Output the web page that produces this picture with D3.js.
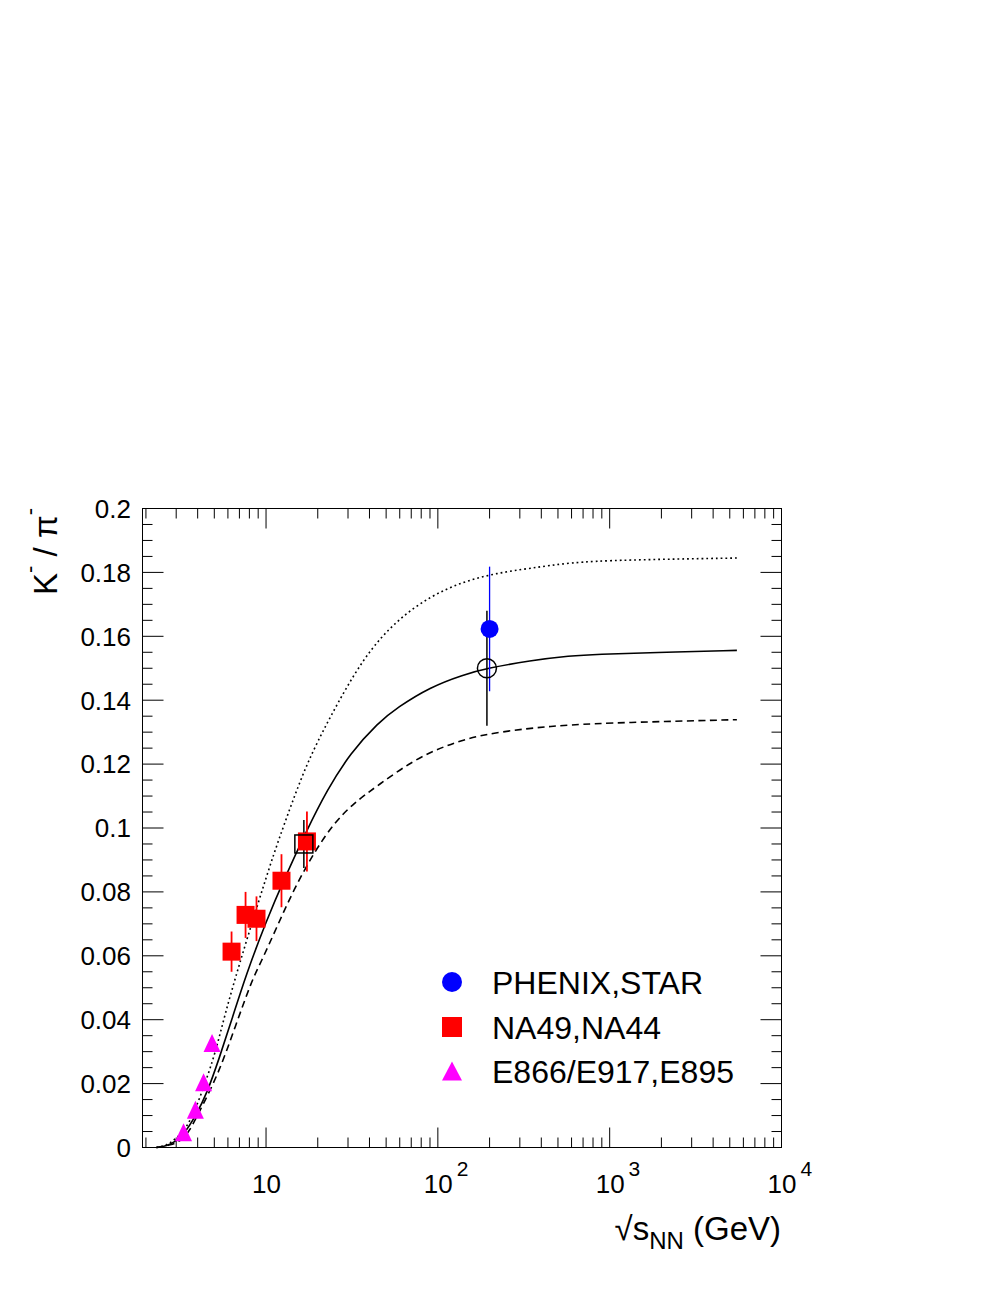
<!DOCTYPE html>
<html>
<head>
<meta charset="utf-8">
<script src="https://cdn.jsdelivr.net/npm/d3@7"></script>
<style>
	body { margin: 0; background: #fff; }
	text { font-family: "Liberation Sans", Arial, sans-serif; fill: #000; }
</style>
</head>
<body>
<svg id="chart" width="997" height="1290"></svg>
<script>
"use strict";

// PHENIX,STAR (filled blue circle) and the open circle next to it
const phenixX = [200];
const phenixY = [0.1623];
const phenixErr = [0.0195];
const starOpenX = [193];
const starOpenY = [0.150];
const starOpenErr = [0.018];

// NA49 (filled red squares), NA44 (open square)
const na49X = [6.3, 7.6, 8.8, 12.3, 17.3];
const na49Y = [0.0613, 0.0728, 0.0716, 0.0835, 0.0958];
const na49Err = [0.0063, 0.0072, 0.007, 0.0083, 0.0094];
const na44X = [16.6];
const na44Y = [0.095];
const na44Err = [0.0075];

// E866/E917,E895 (magenta triangles)
const agsX = [3.31, 3.88, 4.33, 4.85];
const agsY = [0.0048, 0.0118, 0.0204, 0.0327];

// model curves
const solidX = [2.3, 2.65, 2.97, 3.31, 3.88, 4.54, 5.3, 6.34, 7.58, 10.1, 12.7, 17.3, 22.6, 31, 45, 58, 90, 141, 193, 345, 590, 845, 1800, 5500];
const solidY = [0, 0.0005, 0.0019, 0.004, 0.0097, 0.0171, 0.0274, 0.0402, 0.0535, 0.0713, 0.0838, 0.0994, 0.1118, 0.1235, 0.133, 0.1377, 0.1441, 0.148, 0.15, 0.1524, 0.1539, 0.1544, 0.1549, 0.1556];
const dottedX = [2.3, 2.65, 2.95, 3.39, 3.88, 4.43, 5.07, 5.8, 6.93, 8.86, 11.1, 13.9, 17.3, 23.1, 37, 58, 90, 141, 221, 345, 590, 1150, 5500];
const dottedY = [0, 0.0007, 0.0025, 0.0055, 0.0118, 0.0203, 0.0296, 0.0422, 0.0567, 0.0754, 0.0921, 0.1067, 0.1203, 0.1339, 0.1537, 0.1652, 0.1725, 0.1772, 0.1798, 0.1813, 0.1831, 0.1839, 0.1845];
const dashedX = [2.3, 2.8, 3.2, 3.54, 4.24, 5.3, 6.63, 8.29, 9.26, 11.6, 14.5, 18.9, 24.8, 32.4, 45.2, 72.3, 113, 177, 345, 590, 1150, 5500];
const dashedY = [0, 0.0007, 0.0022, 0.0045, 0.0128, 0.0233, 0.0379, 0.0525, 0.0575, 0.0692, 0.0807, 0.0921, 0.1015, 0.1078, 0.1135, 0.1213, 0.126, 0.1292, 0.1313, 0.1323, 0.133, 0.1339];

const xMajor = [10, 100, 1000, 10000];
const xMajorExp = [1, 2, 3, 4];
const yMajor = [0, 0.02, 0.04, 0.06, 0.08, 0.1, 0.12, 0.14, 0.16, 0.18, 0.2];
const yMajorLabels = ["0", "0.02", "0.04", "0.06", "0.08", "0.1", "0.12", "0.14", "0.16", "0.18", "0.2"];

const legendLabels = ["PHENIX,STAR", "NA49,NA44", "E866/E917,E895"];

const frame = { left: 142.5, right: 781.5, top: 508.5, bottom: 1147.5 };

const svg = d3.select('#chart');
svg.append('rect').attr('width', 997).attr('height', 1290).attr('fill', '#fff');

const x = d3.scaleLog().domain([1.91, 10000]).range([frame.left, frame.right]);
const y = d3.scaleLinear().domain([0, 0.2]).range([frame.bottom, frame.top]);

// ticks: major and minor, on all four sides, pointing inward
const g_ticks = svg.append('g').attr('stroke', '#000').attr('stroke-width', 1);
const xMinor = [];
for(let d = 1; d <= 1000; d *= 10) {
	for(let k = 2; k <= 9; k++) {
		const v = k * d;
		if(v >= 1.91 && v <= 10000) xMinor.push(v);
	}
}
const tickLine = (x1, y1, x2, y2) => g_ticks.append('line')
	.attr('x1', x1).attr('y1', y1).attr('x2', x2).attr('y2', y2);
xMinor.forEach((v) => {
	tickLine(x(v), frame.bottom, x(v), frame.bottom - 10);
	tickLine(x(v), frame.top, x(v), frame.top + 10);
});
xMajor.forEach((v) => {
	tickLine(x(v), frame.bottom, x(v), frame.bottom - 20);
	tickLine(x(v), frame.top, x(v), frame.top + 20);
});
const yMinor = d3.range(0, 41).map((i) => i * 0.005);
yMinor.forEach((v, i) => {
	const len = i % 4 == 0 ? 21 : 10;
	tickLine(frame.left, y(v), frame.left + len, y(v));
	tickLine(frame.right, y(v), frame.right - len, y(v));
});

// frame
svg.append('rect')
	.attr('x', frame.left).attr('y', frame.top)
	.attr('width', frame.right - frame.left).attr('height', frame.bottom - frame.top)
	.attr('fill', 'none').attr('stroke', '#000').attr('stroke-width', 1);

// tick labels
svg.append('g').selectAll('text')
	.data(yMajor)
	.join('text')
	.attr('x', 131)
	.attr('y', (d) => y(d))
	.attr('dy', '0.36em')
	.attr('text-anchor', 'end')
	.attr('font-size', 26)
	.text((d, i) => yMajorLabels[i]);

const g_xlab = svg.append('g');
xMajor.forEach((v, i) => {
	const t = g_xlab.append('text')
		.attr('x', x(v) - 14)
		.attr('y', 1193)
		.attr('font-size', 26);
	t.append('tspan').text('10');
	if(xMajorExp[i] > 1) {
		t.append('tspan').attr('dy', -17).attr('dx', 4).attr('font-size', 21).text(xMajorExp[i]);
	}
});

// axis titles
const xt = svg.append('text')
	.attr('x', 781)
	.attr('y', 1240)
	.attr('text-anchor', 'end')
	.attr('font-size', 33);
xt.append('tspan').text('\u221As');
xt.append('tspan').attr('dy', 9).attr('font-size', 24).text('NN');
xt.append('tspan').attr('dy', -9).text(' (GeV)');

const yt = svg.append('text')
	.attr('transform', 'translate(57,508) rotate(-90)')
	.attr('text-anchor', 'end')
	.attr('font-size', 33);
yt.append('tspan').text('K');
yt.append('tspan').attr('dy', -20).attr('font-size', 22).text('-');
yt.append('tspan').attr('dy', 20).text(' / \u03C0');
yt.append('tspan').attr('dy', -20).attr('font-size', 22).text('-');

// curves
const g_plot = svg.append('g');
const line = d3.line()
	.x((d) => x(d[0]))
	.y((d) => y(d[1]))
	.curve(d3.curveBasis);
const curves = [
	{ xs: dashedX, ys: dashedY, dash: '7 4.5' },
	{ xs: dottedX, ys: dottedY, dash: '1.8 3' },
	{ xs: solidX, ys: solidY, dash: null },
];
curves.forEach((c) => {
	g_plot.append('path')
		.attr('d', line(c.xs.map((v, i) => [v, c.ys[i]])))
		.attr('fill', 'none')
		.attr('stroke', '#000')
		.attr('stroke-width', 1.6)
		.attr('stroke-dasharray', c.dash);
});

// error bars
const errBars = (xs, ys, errs, colour, width) => {
	g_plot.append('g').selectAll('line')
		.data(xs)
		.join('line')
		.attr('x1', (d) => x(d)).attr('x2', (d) => x(d))
		.attr('y1', (d, i) => y(ys[i] - errs[i]))
		.attr('y2', (d, i) => y(ys[i] + errs[i]))
		.attr('stroke', colour)
		.attr('stroke-width', width);
};
errBars(starOpenX, starOpenY, starOpenErr, '#000', 1.5);
errBars(na44X, na44Y, na44Err, '#000', 1.5);
errBars(na49X, na49Y, na49Err, '#ff0000', 1.8);
errBars(phenixX, phenixY, phenixErr, '#0000ff', 1.3);

// markers
const triPath = (w, h) => `M${-w / 2},${h / 2}L${w / 2},${h / 2}L0,${-h / 2}Z`;

g_plot.append('g').selectAll('path')
	.data(agsX)
	.join('path')
	.attr('transform', (d, i) => `translate(${x(d)},${y(agsY[i])})`)
	.attr('d', triPath(17, 18))
	.attr('fill', '#ff00ff');

g_plot.append('g').selectAll('rect')
	.data(na49X)
	.join('rect')
	.attr('x', (d) => x(d) - 9)
	.attr('y', (d, i) => y(na49Y[i]) - 9)
	.attr('width', 18).attr('height', 18)
	.attr('fill', '#ff0000');

g_plot.append('g').selectAll('rect')
	.data(na44X)
	.join('rect')
	.attr('x', (d) => x(d) - 9)
	.attr('y', (d, i) => y(na44Y[i]) - 9)
	.attr('width', 18).attr('height', 18)
	.attr('fill', 'none')
	.attr('stroke', '#000')
	.attr('stroke-width', 1.5);

g_plot.append('g').selectAll('circle')
	.data(starOpenX)
	.join('circle')
	.attr('cx', (d) => x(d))
	.attr('cy', (d, i) => y(starOpenY[i]))
	.attr('r', 9.5)
	.attr('fill', 'none')
	.attr('stroke', '#000')
	.attr('stroke-width', 1.5);

g_plot.append('g').selectAll('circle')
	.data(phenixX)
	.join('circle')
	.attr('cx', (d) => x(d))
	.attr('cy', (d, i) => y(phenixY[i]))
	.attr('r', 9)
	.attr('fill', '#0000ff');

// legend
const g_leg = svg.append('g');
const legY = [982, 1027, 1071];
g_leg.append('circle').attr('cx', 452).attr('cy', legY[0]).attr('r', 10).attr('fill', '#0000ff');
g_leg.append('rect').attr('x', 442).attr('y', legY[1] - 10).attr('width', 20).attr('height', 20).attr('fill', '#ff0000');
g_leg.append('path').attr('transform', `translate(452,${legY[2]})`).attr('d', triPath(20, 19)).attr('fill', '#ff00ff');
g_leg.selectAll('text')
	.data(legendLabels)
	.join('text')
	.attr('x', 492)
	.attr('y', (d, i) => legY[i])
	.attr('dy', '0.36em')
	.attr('font-size', 32)
	.text((d) => d);
</script>
</body>
</html>
